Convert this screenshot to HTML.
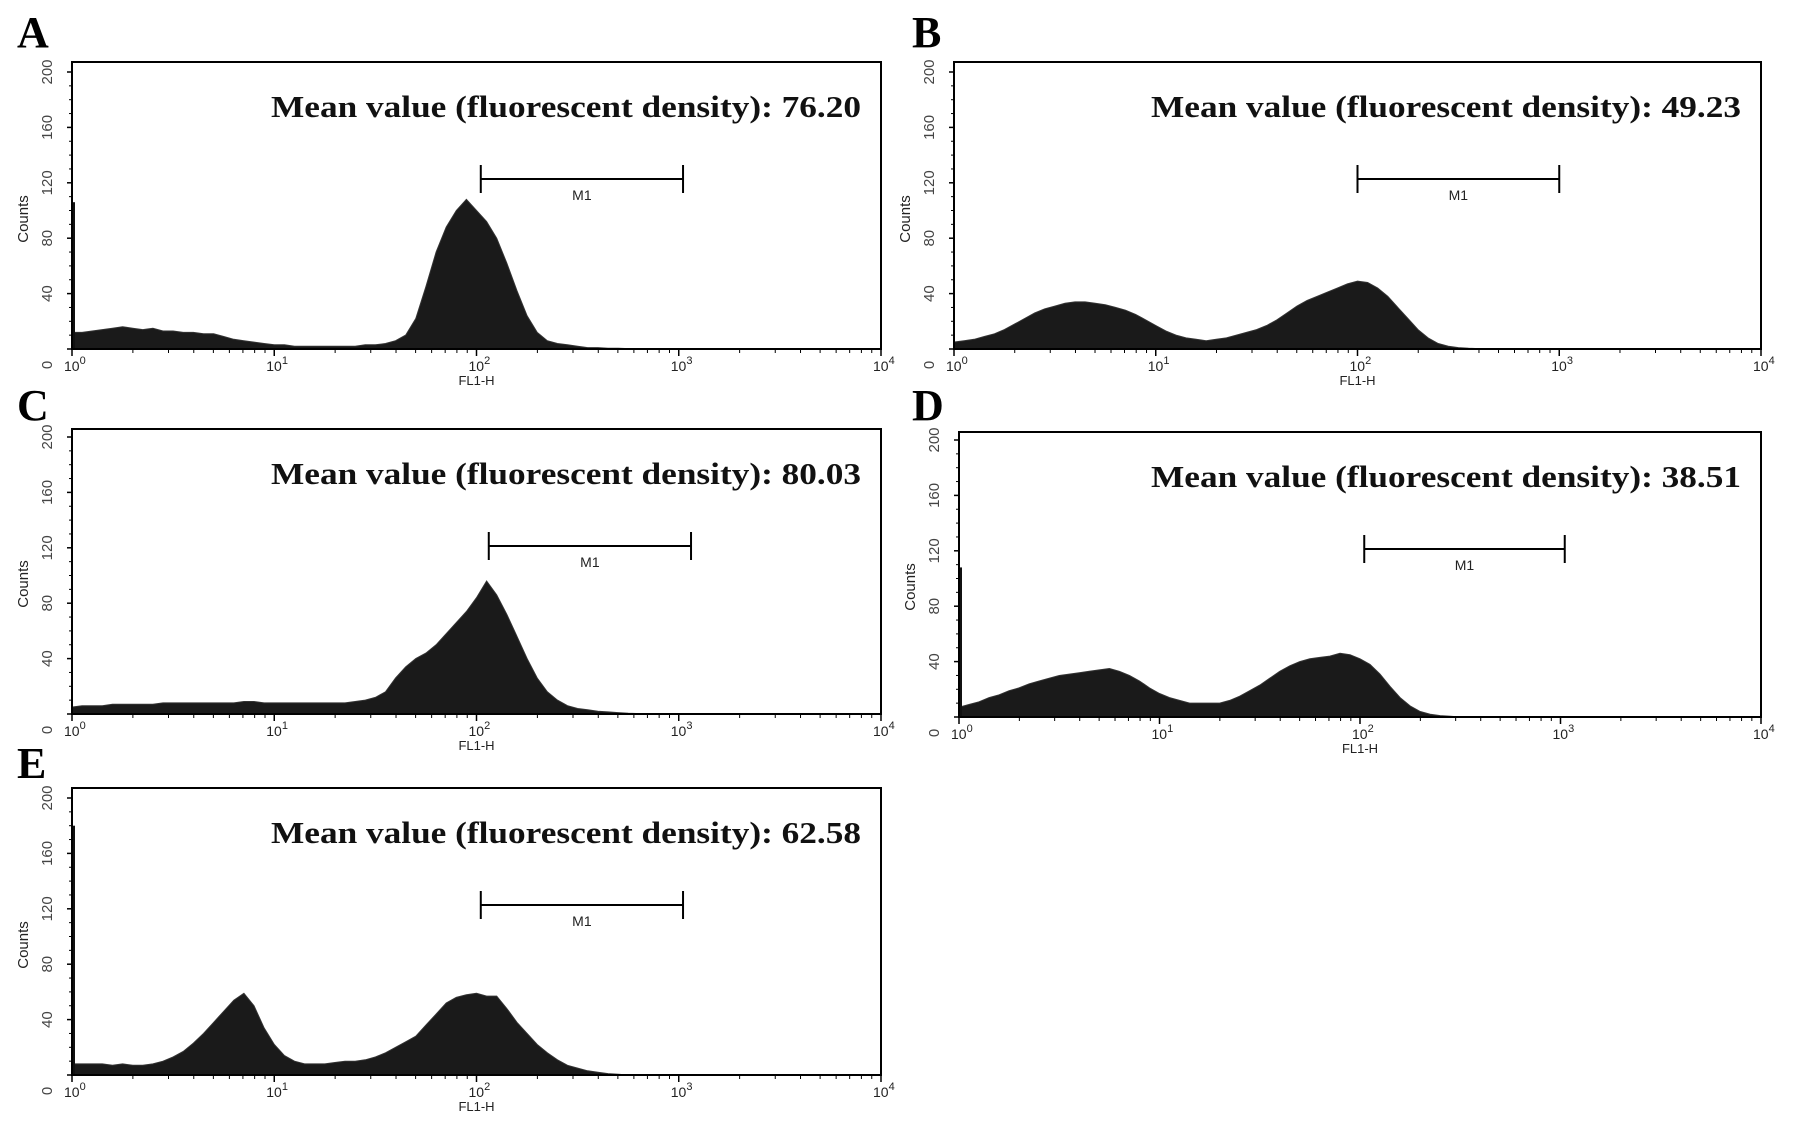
<!DOCTYPE html>
<html><head><meta charset="utf-8"><title>Flow cytometry histograms</title>
<style>html,body{margin:0;padding:0;background:#fff}svg{display:block}</style></head>
<body>
<svg id="fig" width="1795" height="1131" viewBox="0 0 1795 1131" xmlns="http://www.w3.org/2000/svg"></svg>
<script>
// Data: counts sampled every 0.05 decade from log10 = 0 to 3
const logStep = 0.05;
const panelLabels = ["A", "B", "C", "D", "E"];
const meanValues = ["76.20", "49.23", "80.03", "38.51", "62.58"];
const yTickLabels = [0, 40, 80, 120, 160, 200];
const xTickExponents = [0, 1, 2, 3, 4];
const firstChannel = [106, 0, 0, 108, 180];
const markerStart = [105, 100, 115, 105, 105];
const markerEnd = [1050, 1000, 1150, 1050, 1050];
const countsA = [12,12,13,14,15,16,15,14,15,13,13,12,12,11,11,9,7,6,5,4,3,3,2,2,2,2,2,2,2,3,3,4,6,10,22,45,70,88,100,108,100,92,80,62,42,24,12,6,4,3,2,1,1,0.5,0.5,0.3,0.3,0.2,0,0,0];
const countsB = [5,6,7,9,11,14,18,22,26,29,31,33,34,34,33,32,30,28,25,21,17,13,10,8,7,6,7,8,10,12,14,17,21,26,31,35,38,41,44,47,49,48,44,38,30,22,14,8,4,2,1,0.5,0.3,0,0,0,0,0,0,0,0];
const countsC = [5,6,6,6,7,7,7,7,7,8,8,8,8,8,8,8,8,9,9,8,8,8,8,8,8,8,8,8,9,10,12,16,26,34,40,44,50,58,66,74,84,96,86,72,56,40,26,16,10,6,4,3,2,1.5,1,0.5,0.3,0,0,0,0];
const countsD = [7,9,11,14,16,19,21,24,26,28,30,31,32,33,34,35,33,30,26,21,17,14,12,10,10,10,10,12,15,19,23,28,33,37,40,42,43,44,46,45,42,38,31,22,14,8,4,2,1,0.5,0,0,0,0,0,0,0,0,0,0,0];
const countsE = [8,8,8,8,7,8,7,7,8,10,13,17,23,30,38,46,54,59,50,34,22,14,10,8,8,8,9,10,10,11,13,16,20,24,28,36,44,52,56,58,59,57,57,48,38,30,22,16,11,7,5,3,2,1,0.5,0,0,0,0,0,0];
const allCounts = [countsA, countsB, countsC, countsD, countsE];

// Layout (not data)
const frames = [
  {x0:72, x1:881, top:62, axis:349, lx:17, ly:47},
  {x0:954, x1:1761, top:62, axis:349, lx:912, ly:47},
  {x0:72, x1:881, top:429, axis:714, lx:17, ly:420},
  {x0:959, x1:1761, top:432, axis:717, lx:912, ly:420},
  {x0:72, x1:881, top:788, axis:1075, lx:17, ly:778}
];
const pxPerCount = 1.385;
const NS = "http://www.w3.org/2000/svg";
const svg = document.getElementById("fig");
function mk(tag, attrs, parent){const e=document.createElementNS(NS,tag);for(const k in attrs)e.setAttribute(k,attrs[k]);(parent||svg).appendChild(e);return e;}

frames.forEach((f, i) => {
  const g = mk("g", {});
  
  
  const dec = (f.x1 - f.x0) / 4;
  const xs = v => f.x0 + Math.log10(v) * dec;
  const xl = l => f.x0 + l * dec;
  const ys = c => f.axis - c * pxPerCount;

  const lab = mk("text", {x:f.lx, y:f.ly, "font-family":"Liberation Serif, serif", "font-weight":"bold", "font-size":44}, g);
  lab.textContent = panelLabels[i];
  
  

  const counts = allCounts[i];
  let d = "M" + xl(0) + "," + f.axis;
  counts.forEach((c, k) => { d += " L" + xl(k*logStep).toFixed(1) + "," + ys(c).toFixed(1); });
  d += " L" + xl((counts.length-1)*logStep) + "," + f.axis + " Z";
  const area = mk("path", {d:d, fill:"#1a1a1a", stroke:"#333", "stroke-width":1}, g);
  
  
  if (firstChannel[i] > 0) {
    const sp = mk("rect", {x:f.x0, y:ys(firstChannel[i]), width:3, height:f.axis - ys(firstChannel[i]), fill:"#111"}, g);
    
    
  }

  const fr = mk("path", {d:`M${f.x0},${f.axis} L${f.x0},${f.top} L${f.x1},${f.top} L${f.x1},${f.axis} Z`, fill:"none", stroke:"#000", "stroke-width":2}, g);
  
  

  xTickExponents.forEach(e => {
    const x = xl(e);
    mk("line", {x1:x, y1:f.axis, x2:x, y2:f.axis+7, stroke:"#000", "stroke-width":1.5}, g);
    const t = mk("text", {x:x-8, y:f.axis+22, "font-family":"Liberation Sans, sans-serif", "font-size":14, fill:"#222"}, g);
    t.textContent = "10";
    
    
    const s = mk("tspan", {dy:-7, "font-size":11}, t); s.textContent = e;
    if (e < 4) for (let m = 2; m <= 9; m++) {
      const mx = xs(Math.pow(10, e) * m);
      mk("line", {x1:mx, y1:f.axis, x2:mx, y2:f.axis+4, stroke:"#000", "stroke-width":1}, g);
    }
  });
  const xt = mk("text", {x:xl(2), y:f.axis+36, "text-anchor":"middle", "font-family":"Liberation Sans, sans-serif", "font-size":13, fill:"#222"}, g);
  xt.textContent = "FL1-H";
  
  

  yTickLabels.forEach(v => {
    const y = ys(v);
    mk("line", {x1:f.x0-5, y1:y, x2:f.x0, y2:y, stroke:"#000", "stroke-width":1.5}, g);
    const yy = v === 0 ? f.axis + 16 : y;
    const t = mk("text", {x:0, y:0, transform:`translate(${f.x0-20},${yy}) rotate(-90)`, "text-anchor":"middle", "font-family":"Liberation Sans, sans-serif", "font-size":15, fill:"#444"}, g);
    t.textContent = v;
    
    
  });
  for (let v = 10; v < 205; v += 10) if (v % 40) {
    mk("line", {x1:f.x0-3, y1:ys(v), x2:f.x0, y2:ys(v), stroke:"#000", "stroke-width":1}, g);
  }
  const yt = mk("text", {x:0, y:0, transform:`translate(${f.x0-44},${f.axis-130}) rotate(-90)`, "text-anchor":"middle", "font-family":"Liberation Sans, sans-serif", "font-size":15, fill:"#222"}, g);
  yt.textContent = "Counts";
  
  

  const my = f.top + 117;
  const ma = xs(markerStart[i]), mb = xs(markerEnd[i]);
  const mg = mk("g", {stroke:"#000", "stroke-width":2}, g);
  
  
  mk("line", {x1:ma, y1:my, x2:mb, y2:my}, mg);
  mk("line", {x1:ma, y1:my-14, x2:ma, y2:my+14}, mg);
  mk("line", {x1:mb, y1:my-14, x2:mb, y2:my+14}, mg);
  const ml = mk("text", {x:(ma+mb)/2, y:my+21, "text-anchor":"middle", "font-family":"Liberation Sans, sans-serif", "font-size":14, fill:"#222"}, g);
  ml.textContent = "M1";
  
  

  const mt = mk("text", {x:f.x1-20, y:f.top+55, "text-anchor":"end", "font-family":"Liberation Serif, serif", "font-weight":"bold", "font-size":31, textLength:590, lengthAdjust:"spacingAndGlyphs", fill:"#111"}, g);
  mt.textContent = "Mean value (fluorescent density): " + meanValues[i];
  
  
});
</script>
</body></html>
